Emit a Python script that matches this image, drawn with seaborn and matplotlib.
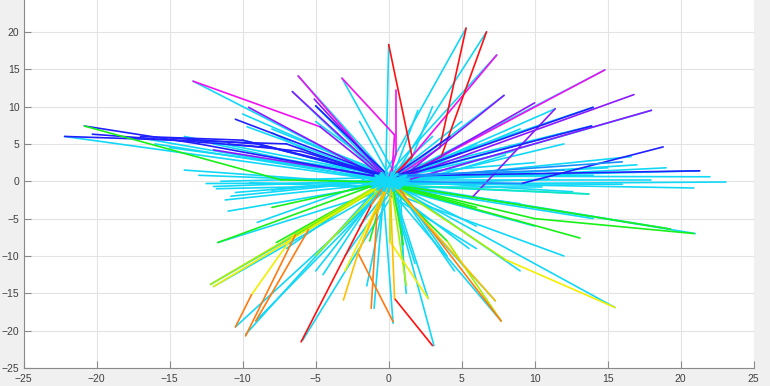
import matplotlib
matplotlib.use("Agg")
import matplotlib.pyplot as plt
import seaborn as sns
import pandas as pd

# ---------------- data ----------------
palette = {
    "red": "#ff1010", "orange": "#ff7a10", "amber": "#ffc000", "yellow": "#f2ee00",
    "lime": "#a8f000", "green": "#18f018", "teal": "#10e8c0", "cyan": "#12d8f8",
    "azure": "#1890ff", "blue": "#2020ff", "violet": "#8a18ff", "magenta": "#f010f0",
}

# straight cyan tracks (start in the central cluster, end point)
cyan_start_x = [-0.2, -0.5, 0.3, -0.3, 0.2, -0.1, 0.4, 0.0, 0.6, -0.4, 0.5, 0.3, -0.6, 0.0, 0.8,
                -0.2, 0.4, 0.7, 0.1, -0.5, 0.3, -0.3, 0.5, 0.2, -0.2, 0.1, -0.4, 0.6, 0.3, -0.3,
                0.7, 0.0, -0.5, 0.2, -0.6, -0.2, 0.4, -0.8, -0.7, -0.4, -1.0, -0.5, -0.8, -0.4,
                -0.6, 0.1, -0.3, 0.5, -0.2, 0.0, -0.7, 0.9, -0.9, 0.6, -0.1, 0.3, -0.5, 0.8,
                -0.3, 0.2, 1.0, -1.1, 0.4, -0.6, 0.7, -0.2, 0.9, -0.8, 0.1, 0.5,
                -0.9, -0.6, -0.3, -1.0, -0.7, -0.8, 0.6, 0.3, 0.8, 0.2, 1.0, 0.4,
                -0.4, -0.9, -0.6, -0.2, 0.1, -0.5, 0.4, 0.7, 0.2, 0.9, 0.5, -0.1,
                0.3, -0.4, 0.6, -0.7, 0.0, 0.8, 0.5, -0.3, -0.6, 0.2, 0.9, -0.8,
                -0.1, 0.4]
cyan_start_y = [1.0, 0.2, 0.5, 0.4, 0.1, -0.2, 0.3, 0.8, -0.3, 0.6, 0.1, -0.5, -0.4, -0.2, 0.4,
                0.3, -0.6, 0.0, 0.9, -0.8, -0.4, -0.1, -0.9, -0.7, -0.5, -0.3, -0.9, -0.5, -1.0,
                -0.6, -0.4, -0.7, -0.3, -0.2, -0.7, -0.9, -0.8, -0.5, 0.1, -0.3, 0.0, 0.5, 0.2,
                0.7, 0.6, 0.4, 0.2, 0.7, 0.5, 0.0, -1.2, 0.6, -0.6, -1.1, 1.2, 1.1, -1.3, -0.9,
                0.9, -1.2, 0.2, -0.3, 1.3, 1.0, -0.8, -1.4, 0.8, 0.3, -1.1, 0.5,
                -0.2, -0.5, 0.1, -0.8, 0.3, -0.1, 0.2, -0.3, 0.5, 0.0, -0.4, 0.7,
                0.6, 0.4, 0.9, 0.8, 0.6, 0.3, 0.9, 0.4, 0.2, -0.2, -0.9, -0.8,
                -1.0, -0.7, -0.6, -0.9, -1.1, -0.7, -0.5, -1.2, -0.4, -0.8, -0.3, -0.6,
                0.5, 1.0]
cyan_end_x = [0.0, 5.3, 6.7, 7.4, 7.9, 14.8, 11.4, 14.0, 18.0, 13.9, 16.6, 12.0, 23.1, 20.9, 21.3,
              15.0, 13.7, 12.6, 10.0, 10.5, 21.0, 19.3, 15.5, 7.3, 7.7, 3.1, 0.3, 1.2, 2.7, -1.0,
              -5.9, -10.5, -9.8, -9.1, -12.2, -12.0, -11.7, -7.0, -12.0, -11.2, -10.5, -11.5,
              -22.2, -15.0, -13.4, -6.2, -6.6, -3.2, -9.7, -5.0, -4.5, 8.5, -8.0, 4.5, -2.0,
              3.0, -3.5, 6.0, -7.5, 1.8, 17.0, -14.0, 2.0, -10.0, 9.0, -1.5, 12.5, -16.0, 5.5, -4.0,
              -12.5, -11.8, -10.8, -9.5, -8.0, -13.0, 18.0, 16.0, 14.0, 19.0, 11.0, 22.0,
              -10.0, -12.0, -14.0, -8.0, -5.0, -3.0, 5.0, 9.0, 12.0, 3.0, 8.0, 6.0,
              -3.0, -5.0, 4.0, 6.0, -2.0, 1.0, 9.0, 12.0, 14.0, 10.0, -17.0, -11.0,
              -6.5, -9.0]
cyan_end_y = [18.3, 20.5, 20.0, 16.9, 11.5, 14.9, 9.7, 9.9, 9.5, 7.4, 3.3, 5.0, -0.1, -0.9, 1.4,
              1.8, -1.7, -1.4, 2.5, -0.8, -7.0, -6.4, -16.9, -16.0, -18.7, -22.0, -19.0, -15.0,
              -15.7, -17.0, -21.3, -19.5, -20.5, -18.7, -13.8, -14.1, -8.2, -9.0, -0.7, -2.5,
              -1.5, 0.0, 6.0, 4.5, 13.4, 14.1, 12.0, 13.8, 7.3, 10.1, -12.5, 4.0, 6.5, -12.0,
              8.0, 6.0, -7.0, -6.0, 3.0, -11.0, 2.2, 1.5, 9.5, 9.0, -3.0, -14.0, 0.8, 5.0,
              -9.0, 4.0,
              -0.3, -1.0, -2.0, -0.2, -1.2, 0.8, 0.2, -0.4, 0.8, 1.8, 0.3, 0.6,
              5.5, 5.0, 6.0, 7.0, 8.0, 7.0, 8.0, 7.0, 6.5, 10.0, 3.5, 5.0,
              -10.0, -12.0, -10.0, -9.0, -6.0, -11.0, -12.0, -10.0, -5.0, -6.0, 5.8, -4.0,
              2.5, -5.5]

# short cyan tracks forming the dense central cluster (drawn on top)
core_start_x = [-1.3, -1.0, -0.6, -1.2, 1.1, 1.3, 0.7, 1.2, -0.5, 0.4, -0.9, 0.6,
                -1.1, 1.0, -0.3, 0.3, -1.4, 1.4, 0.0, -0.7, 0.8, -0.2, 0.2, -1.0]
core_start_y = [0.3, -0.6, 0.9, -0.2, 0.5, -0.5, -1.0, 0.1, 1.1, -1.2, 0.8, 1.0,
                -0.9, 0.6, -1.3, 1.2, -0.4, 0.2, -1.4, -1.1, -0.8, 1.3, 0.7, 0.5]
core_end_x = [1.0, 1.2, 0.8, 1.1, -1.1, -0.9, -0.7, -1.3, 0.6, -0.5, 0.9, -0.8,
              1.2, -1.2, 0.4, -0.4, 0.9, -1.0, 0.2, 0.6, -0.6, 0.3, -0.3, 1.4]
core_end_y = [-0.5, 0.7, -0.9, 0.4, -0.6, 0.8, 0.6, -0.3, -1.0, 1.1, -0.7, -1.1,
              0.8, -0.5, 1.2, -1.2, 0.3, -0.4, 1.2, 0.9, 0.5, -1.3, -0.9, -0.2]

# coloured trajectories: vertices and colour of each segment
traj_x = [
    [0.3, 3.5, 5.3], [0.5, 3.6, 6.7], [0.2, 1.6, 0.0], [0.3, 7.4], [0.6, 7.9], [0.4, 10.0],
    [0.5, 14.8], [0.7, 16.8], [0.3, 18.0], [0.2, 14.0], [0.6, 13.9], [0.5, 9.1, 18.8],
    [0.4, 21.3], [0.1, 4.2], [0.5, 5.7, 11.4], [0.0, 0.5, 0.5], [0.2, 0.4, -3.2],
    [-0.3, -4.7, -13.4], [-0.2, -6.2], [-0.3, -6.6], [-0.5, -9.6], [-0.4, -10.5],
    [-0.2, -5.1], [-0.1, -5.0], [-0.5, -13.0, -20.85], [-0.6, -7.4, -20.85],
    [-0.5, -7.0, -22.2], [-0.5, -8.0, -20.3], [-0.4, -10.0, -17.0], [-0.3, -12.0],
    [0.5, 19.3], [0.5, 10.0, 20.9], [0.4, 13.1], [0.5, 8.0, 15.5], [0.6, 7.7],
    [0.3, 4.0, 7.7], [0.4, 7.3], [0.1, 0.4, 3.0], [0.1, 0.1, 2.7], [0.2, 1.2],
    [-0.2, -2.1, 0.3], [-0.2, -2.1, -3.1], [-0.1, -0.8, -1.2], [-0.4, -1.2, -6.0],
    [-0.5, -6.5, -9.4, -10.5], [-0.6, -6.4, -9.8], [-0.5, -5.5, -9.1], [-0.7, -12.2],
    [-0.6, -12.0], [-0.8, -11.7], [-0.7, -7.7], [-0.5, -5.0], [-0.3, -1.3], [0.3, 1.0],
    [0.6, 13.7], [0.5, 6.0], [-0.6, -8.0], [-0.2, -3.0],
    [-0.4, -9.0, -15.0], [-0.3, -6.0, -11.0], [0.5, 12.0], [0.6, 16.0], [0.3, 5.0],
]
traj_y = [
    [0.3, 4.5, 20.5], [0.2, 3.3, 20.0], [0.5, 3.3, 18.3], [0.3, 16.9], [0.0, 11.5], [-0.2, 10.5],
    [0.1, 14.9], [0.3, 11.6], [-0.4, 9.5], [0.5, 9.9], [0.6, 7.4], [0.0, -0.3, 4.6],
    [0.7, 1.4], [0.4, 6.0], [-0.3, -2.2, 9.7], [0.3, 3.6, 12.2], [0.3, 6.2, 13.8],
    [0.4, 7.3, 13.4], [0.5, 14.1], [0.6, 12.0], [0.4, 9.9], [0.8, 8.3],
    [0.6, 11.0], [0.9, 10.1], [0.5, 5.0, 7.4], [-0.1, 0.2, 7.4],
    [0.6, 5.0, 6.0], [0.8, 4.5, 6.3], [0.9, 5.5, 6.0], [0.5, 4.2],
    [-0.5, -6.4], [-0.6, -5.0, -7.0], [-0.7, -7.6], [-0.8, -10.5, -16.9], [-0.7, -18.7],
    [-0.9, -8.0, -18.7], [-0.8, -16.0], [-0.8, -15.7, -22.0], [-0.7, -8.1, -15.7], [-0.9, -13.9],
    [-0.8, -9.6, -18.8], [-0.6, -9.6, -15.9], [-0.9, -4.3, -17.0], [-0.8, -3.2, -21.5],
    [-0.6, -7.2, -15.2, -19.5], [-0.5, -7.2, -20.7], [-0.7, -6.5, -18.7], [-0.5, -13.8],
    [-0.6, -14.1], [-0.4, -8.2], [-0.6, -8.2], [-0.8, -9.9], [-0.9, -8.0], [-0.9, -8.5],
    [-0.5, -1.7], [-0.6, -3.5], [-0.3, -3.5], [-0.9, -12.0],
    [0.7, 5.0, 5.8], [0.8, 4.0, 5.0], [0.8, 1.5], [0.5, 2.6], [0.6, 3.8],
]
traj_colors = [
    ["magenta", "red"], ["red", "red"], ["red", "red"], ["magenta"], ["violet"], ["violet"],
    ["magenta"], ["violet"], ["violet"], ["blue"], ["blue"], ["azure", "blue"],
    ["blue"], ["blue"], ["cyan", "violet"], ["magenta", "magenta"], ["magenta", "magenta"],
    ["violet", "magenta"], ["magenta"], ["violet"], ["violet"], ["blue"],
    ["violet"], ["blue"], ["blue", "blue"], ["green", "green"],
    ["blue", "blue"], ["blue", "blue"], ["blue", "blue"], ["violet"],
    ["green"], ["green", "green"], ["green"], ["lime", "yellow"], ["orange"],
    ["green", "lime"], ["amber"], ["amber", "red"], ["lime", "yellow"], ["lime"],
    ["amber", "orange"], ["amber", "amber"], ["amber", "orange"], ["orange", "red"],
    ["green", "yellow", "orange"], ["green", "orange"], ["lime", "orange"], ["lime"],
    ["yellow"], ["green"], ["green"], ["lime"], ["green"], ["green"],
    ["teal"], ["green"], ["green"], ["yellow"],
    ["blue", "blue"], ["blue", "blue"], ["azure"], ["azure"], ["blue"],
]

x_ticks = [-25, -20, -15, -10, -5, 0, 5, 10, 15, 20, 25]
y_ticks = [-25, -20, -15, -10, -5, 0, 5, 10, 15, 20]


# ---------------- long-form tables ----------------
def straight_tracks(sx, sy, ex, ey):
    rows = []
    for i in range(len(ex)):
        rows.append({"seg": i, "x": sx[i], "y": sy[i], "color": "cyan"})
        rows.append({"seg": i, "x": ex[i], "y": ey[i], "color": "cyan"})
    return pd.DataFrame(rows)


cyan_df = straight_tracks(cyan_start_x, cyan_start_y, cyan_end_x, cyan_end_y)
core_df = straight_tracks(core_start_x, core_start_y, core_end_x, core_end_y)

seg_rows = []
sid = 0
for xs, ys, cs in zip(traj_x, traj_y, traj_colors):
    for k, c in enumerate(cs):
        seg_rows.append({"seg": sid, "x": xs[k], "y": ys[k], "color": c})
        seg_rows.append({"seg": sid, "x": xs[k + 1], "y": ys[k + 1], "color": c})
        sid += 1
seg_df = pd.DataFrame(seg_rows)

# ---------------- figure ----------------
sns.set_theme(style="white")
plt.rcParams["font.family"] = ["Liberation Sans", "DejaVu Sans"]

fig = plt.figure(figsize=(7.7, 3.86), dpi=100, facecolor="#f0f0f0")
ax = fig.add_axes([0.0308, 0.0466, 0.948, 0.9676])
ax.set_facecolor("white")

sns.lineplot(data=cyan_df, x="x", y="y", hue="color", palette=palette, units="seg",
             estimator=None, sort=False, legend=False, linewidth=1.2, ax=ax)
sns.lineplot(data=seg_df, x="x", y="y", hue="color", palette=palette, units="seg",
             estimator=None, sort=False, legend=False, linewidth=1.2, ax=ax)
sns.lineplot(data=core_df, x="x", y="y", hue="color", palette=palette, units="seg",
             estimator=None, sort=False, legend=False, linewidth=1.6, ax=ax)

ax.set_xlim(-25, 25)
ax.set_ylim(-25, 25)
ax.set_xticks(x_ticks)
ax.set_yticks(y_ticks)
ax.set_xlabel("")
ax.set_ylabel("")
ax.grid(True, color="#e3e3e3", linewidth=0.8)
ax.set_axisbelow(True)
for s in ["top", "right"]:
    ax.spines[s].set_visible(False)
for s in ["left", "bottom"]:
    ax.spines[s].set_color("#8a8a8a")
    ax.spines[s].set_linewidth(0.8)
ax.tick_params(direction="in", length=5, width=0.8, color="#8a8a8a",
               labelsize=7.5, labelcolor="#404040", left=True, bottom=True)
ax.tick_params(axis="x", pad=4)
ax.tick_params(axis="y", pad=3)

fig.savefig("out.png", dpi=100, facecolor=fig.get_facecolor())
